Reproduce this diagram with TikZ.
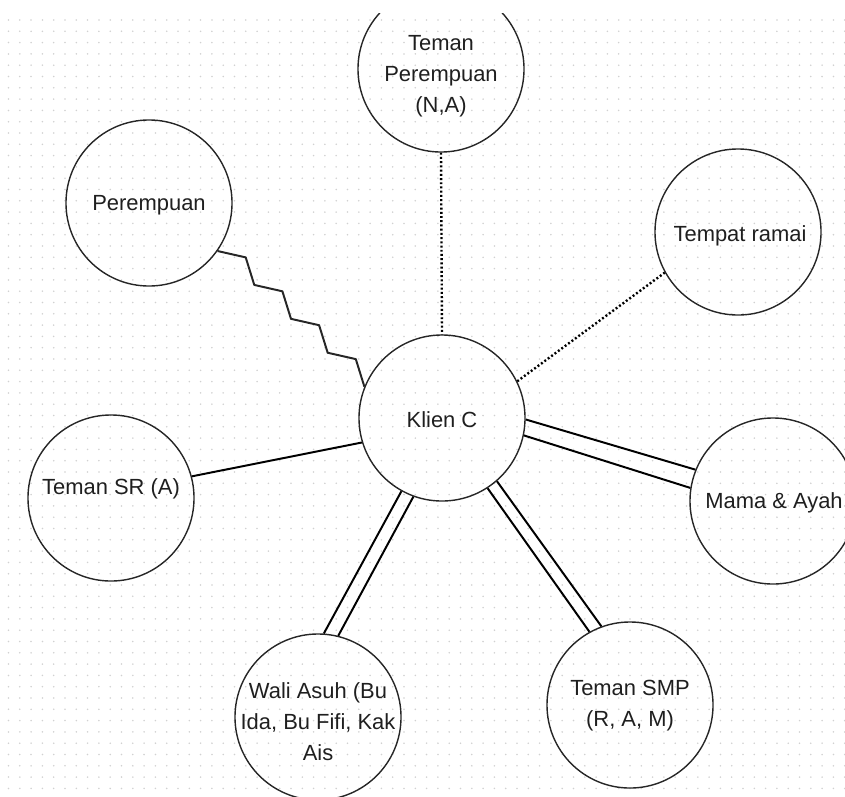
\documentclass[tikz,border=0pt]{standalone}
\usepackage{fontspec}
\setmainfont{Liberation Sans}
\usetikzlibrary{calc}

\begin{document}
\begin{tikzpicture}[x=0.025cm, y=-0.025cm,
		pers/.style={circle, draw=black!85, line width=1pt, minimum size=4.15cm, inner sep=0pt},
		txt/.style={align=center, text=black!88, font=\fontsize{15.6}{22}\selectfont},
		link/.style={line width=1.4pt},
		weak/.style={line width=1.7pt, dash pattern=on 1.4pt off 1.6pt},
		tense/.style={line width=1.4pt, line join=round, draw=black!85}]
			%%%%% START %%%%%
			
			\useasboundingbox (0,0) rectangle (845,796);
			\clip (0,13) rectangle (845,796);
			
			\foreach \gy in {20,31.3,...,796}
				\foreach \gx in {8.5,19.8,...,845}
					\fill[black!18] (\gx,\gy) circle (0.022cm);
			
			\node[pers] (tpr) at (441,69) {};
			\node[pers] (perem) at (149,203) {};
			\node[pers] (tempat) at (738,232) {};
			\node[pers] (klien) at (442,418) {};
			\node[pers] (sr) at (111,498) {};
			\node[pers] (mama) at (773,501) {};
			\node[pers] (wali) at (318,717) {};
			\node[pers] (smp) at (630,705) {};
			
			\node[txt] (tpr-t) at (441,76) {Teman\\Perempuan\\(N,A)};
			\node[txt] (perem-t) at (149,205) {Perempuan};
			\node[txt] (tempat-t) at (740,236) {Tempat ramai};
			\node[txt] (klien-t) at (442,420) {Klien C};
			\node[txt] (sr-t) at (111,489) {Teman SR (A)};
			\node[txt] (mama-t) at (774,503) {Mama \& Ayah};
			\node[txt] (wali-t) at (318,722) {Wali Asuh (Bu\\Ida, Bu Fifi, Kak\\Ais};
			\node[txt] (smp-t) at (630,706) {Teman SMP\\(R, A, M)};
			
			\draw[weak] (tpr.-90) -- (klien.90);
			\draw[weak] (klien.26) -- (tempat.209);
			\draw[link] (klien.197) -- (sr.15);
			
			\draw[link] (klien.-1) -- (mama.158);
			\draw[link] (klien.-12) -- (mama.171);
			\draw[link] (klien.-119) -- (wali.86);
			\draw[link] (klien.-110) -- (wali.76);
			\draw[link] (klien.-57) -- (smp.119);
			\draw[link] (klien.-49) -- (smp.110);
			
			\coordinate (zs) at (perem.-35);
			\coordinate (ze) at (klien.158);
			\draw[tense] (zs) \foreach \k in {1,...,4} {
				-- ($(zs)!{(\k-0.5)/4}!(ze)!0.36cm!90:(ze)$) -- ($(zs)!{\k/4}!(ze)$)};
			
			%%%%% END %%%%%
		\end{tikzpicture}
\end{document}
